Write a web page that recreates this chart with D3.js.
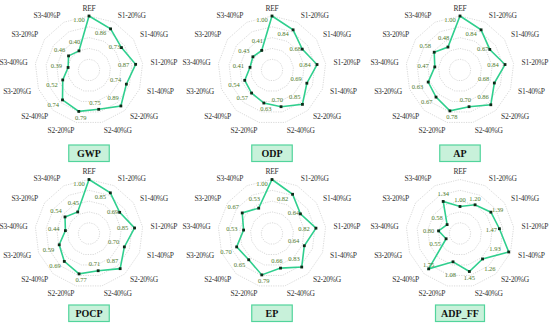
<!DOCTYPE html>
<html><head><meta charset="utf-8">
<script src="https://cdn.jsdelivr.net/npm/d3@7"></script>
<style>
html,body{margin:0;padding:0;background:#fff;}
svg{display:block;}
</style></head>
<body>
<svg id="chart" width="550" height="328"></svg>
<script>
// ---------- DATA ----------
const axes = ["REF","S1-20%G","S1-40%G","S1-20%P","S1-40%P","S2-20%G","S2-40%G","S2-20%P","S2-40%P","S3-20%G","S3-40%G","S3-20%P","S3-40%P"];
const indicators = ["GWP","ODP","AP","POCP","EP","ADP_FF"];
const gwp   = [1.00,0.86,0.73,0.87,0.74,0.89,0.75,0.79,0.74,0.52,0.39,0.46,0.40];
const odp   = [1.00,0.84,0.68,0.84,0.69,0.85,0.70,0.63,0.57,0.54,0.41,0.43,0.41];
const ap    = [1.00,0.84,0.67,0.84,0.68,0.86,0.70,0.78,0.67,0.63,0.47,0.58,0.48];
const pocp  = [1.00,0.85,0.69,0.85,0.70,0.87,0.71,0.77,0.69,0.59,0.44,0.54,0.45];
const ep    = [1.00,0.82,0.64,0.82,0.64,0.83,0.66,0.79,0.65,0.70,0.53,0.67,0.53];
const adpff = [1.00,1.20,1.39,1.47,1.93,1.26,1.45,1.08,1.75,0.55,0.80,0.58,1.34];
const seriesList = [gwp, odp, ap, pocp, ep, adpff];
const radialMax = [1.0,1.0,1.0,1.0,1.0,2.0];

// ---------- LAYOUT ----------
const centersX = [89, 272, 460];
const centersY = [70, 233.5];
const R = 54;
const boxTopY = [145, 305];
// label nudges (px) per axis for value labels
const nudgeStd = [[-10,3.7],[-10,4],[-7,-1],[-12,0],[-10.7,-5],[-7.7,-8.3],[-3.7,-7.3],[2,5.7],[-9.3,4.3],[-10.7,4.3],[-11.7,-1.7],[-9,-6.3],[-4.3,-9.7]];
const nudgeAdp = [[0,-6.7],[0,-6],[6.7,-2.3],[-8,1],[-13.7,-3.7],[7.3,9.3],[0,6],[-2.7,12.7],[0,-4.3],[-11,4.3],[-10,0],[-10,-6.7],[0,-7.7]];

const svg = d3.select("#chart");
const n = axes.length;
const angle = d3.scaleLinear().domain([0, n]).range([0, 2*Math.PI]);
const serif = "'Liberation Serif','DejaVu Serif',serif";

indicators.forEach((name, k) => {
  const cx = centersX[k % 3], cy = centersY[Math.floor(k / 3)];
  const vals = seriesList[k];
  const r = d3.scaleLinear().domain([0, radialMax[k]]).range([0, R]);
  const g = svg.append("g").attr("transform", `translate(${cx},${cy})`);
  const pt = (i, rad) => [rad * Math.sin(angle(i)), -rad * Math.cos(angle(i))];

  // grid polygons
  const levels = d3.range(1, 6).map(j => radialMax[k] * j / 5);
  levels.forEach(lv => {
    const poly = d3.range(n).map(i => pt(i, r(lv)));
    g.append("path")
      .attr("d", d3.line()(poly) + "Z")
      .attr("fill", "none")
      .attr("stroke", "#cfcfcf")
      .attr("stroke-width", 0.8)
      .attr("stroke-dasharray", "1.2,1.2");
  });

  // axis labels
  axes.forEach((a, i) => {
    const s = Math.sin(angle(i));
    const [x, y] = pt(i, R + 8);
    g.append("text")
      .attr("x", x).attr("y", y)
      .attr("dominant-baseline", "central")
      .attr("text-anchor", s > 0.1 ? "start" : (s < -0.1 ? "end" : "middle"))
      .attr("font-family", serif)
      .attr("font-size", 7.5)
      .attr("letter-spacing", -0.25)
      .attr("fill", "#333")
      .text(a);
  });

  // data line
  const linePts = vals.map((v, i) => pt(i, r(v)));
  g.append("path")
    .attr("d", d3.line()(linePts) + "Z")
    .attr("fill", "none")
    .attr("stroke", "#2fcf8e")
    .attr("stroke-width", 1.6)
    .attr("stroke-linejoin", "miter");

  // markers
  g.selectAll("rect.m").data(vals).enter().append("rect")
    .attr("x", (v, i) => pt(i, r(v))[0] - 1.4)
    .attr("y", (v, i) => pt(i, r(v))[1] - 1.4)
    .attr("width", 2.8).attr("height", 2.8)
    .attr("fill", "#0d2a18");

  // value labels
  const nudge = k === 5 ? nudgeAdp : nudgeStd;
  vals.forEach((v, i) => {
    const [x, y] = pt(i, r(v));
    g.append("text")
      .attr("x", x + nudge[i][0]).attr("y", y + nudge[i][1])
      .attr("text-anchor", "middle")
      .attr("dominant-baseline", "central")
      .attr("font-family", serif)
      .attr("font-size", 6.5)
      .attr("fill", "#4e7a2c")
      .text(v.toFixed(2));
  });

  // title box
  const bw = name.length > 4 ? 49 : 40.5, bh = 16.5;
  const by = boxTopY[Math.floor(k / 3)];
  svg.append("rect")
    .attr("x", cx - bw / 2).attr("y", by)
    .attr("width", bw).attr("height", bh)
    .attr("fill", "#c8f1da")
    .attr("stroke", "#52d49c")
    .attr("stroke-width", 1.2);
  svg.append("text")
    .attr("x", cx).attr("y", by + bh / 2 + 0.5)
    .attr("text-anchor", "middle")
    .attr("dominant-baseline", "central")
    .attr("font-family", serif)
    .attr("font-weight", "bold")
    .attr("font-size", 10)
    .attr("fill", "#111")
    .text(name);
});
</script>
</body></html>
